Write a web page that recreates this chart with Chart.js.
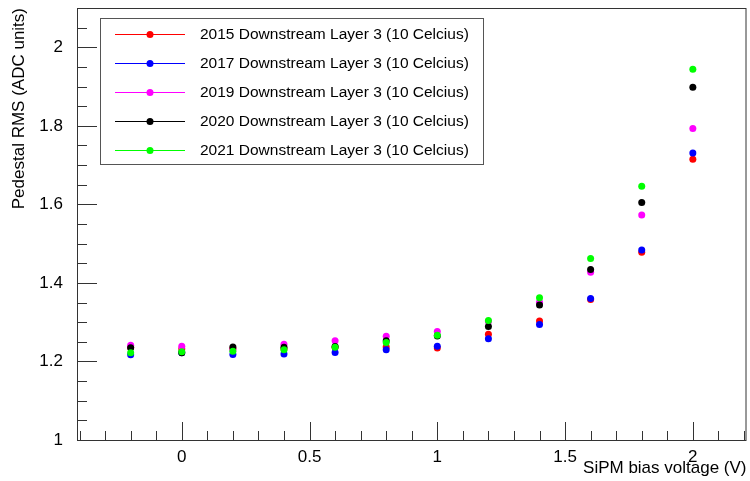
<!DOCTYPE html>
<html lang="en">
  <head>
    <meta charset="UTF-8" />
    <title>Pedestal RMS vs SiPM bias voltage</title>
    <script src="https://cdn.jsdelivr.net/npm/chart.js"></script>
    <style>
      body {
        margin: 0;
        background-color: #fff;
      }
      #chart-container {
        width: 750px;
        height: 481px;
      }
    </style>
  </head>
  <body>
    <div id="chart-container">
      <canvas id="rmsChart" width="750" height="481"></canvas>
    </div>
    <script>
      // bias voltage points (V)
      const voltages = [-0.2, 0, 0.2, 0.4, 0.6, 0.8, 1.0, 1.2, 1.4, 1.6, 1.8, 2.0];

      // pedestal RMS per year (ADC units)
      const rms2015 = [1.236, 1.232, 1.233, 1.232, 1.236, 1.237, 1.234, 1.269, 1.303, 1.358, 1.478, 1.715];
      const rms2017 = [1.217, 1.222, 1.218, 1.219, 1.223, 1.230, 1.239, 1.258, 1.294, 1.360, 1.484, 1.731];
      const rms2019 = [1.241, 1.239, 1.230, 1.244, 1.253, 1.264, 1.276, 1.302, 1.351, 1.427, 1.573, 1.793];
      const rms2020 = [1.235, 1.222, 1.237, 1.236, 1.238, 1.253, 1.265, 1.289, 1.344, 1.434, 1.605, 1.898];
      const rms2021 = [1.222, 1.225, 1.226, 1.230, 1.236, 1.248, 1.267, 1.304, 1.362, 1.462, 1.646, 1.944];

      const seriesLabels = [
        "2015 Downstream Layer 3 (10 Celcius)",
        "2017 Downstream Layer 3 (10 Celcius)",
        "2019 Downstream Layer 3 (10 Celcius)",
        "2020 Downstream Layer 3 (10 Celcius)",
        "2021 Downstream Layer 3 (10 Celcius)",
      ];
      const seriesColors = ["#ff0000", "#0000ff", "#ff00ff", "#000000", "#00ff00"];
      const seriesValues = [rms2015, rms2017, rms2019, rms2020, rms2021];

      const xTicks = [0, 0.5, 1, 1.5, 2];
      const yTicks = [1, 1.2, 1.4, 1.6, 1.8, 2];

      const FONT = "Liberation Sans";

      function makeDataset(i) {
        return {
          label: seriesLabels[i],
          data: voltages.map((v, k) => ({ x: v, y: seriesValues[i][k] })),
          backgroundColor: seriesColors[i],
          borderColor: seriesColors[i],
          pointRadius: 3.5,
          pointHoverRadius: 3.5,
          borderWidth: 0,
          showLine: false,
          // green ends up on top, red at the bottom
          order: seriesLabels.length - i,
        };
      }

      // no extra room for overhanging tick labels
      function noScalePadding(s) {
        s.paddingTop = 0;
        s.paddingBottom = 0;
        s.paddingLeft = 0;
        s.paddingRight = 0;
      }

      // ROOT style frame, inner ticks and legend box
      const rootStyle = {
        id: "rootStyle",
        afterDraw(chart) {
          const c = chart.ctx;
          const a = chart.chartArea;
          const xs = chart.scales.x;
          const ys = chart.scales.y;
          c.save();

          // frame
          c.strokeStyle = "#333";
          c.lineWidth = 1;
          c.strokeRect(a.left + 0.5, a.top + 0.5, a.right - a.left - 1, a.bottom - a.top);

          // x ticks (major 0.5, minor 0.1), pointing up into the frame
          c.beginPath();
          for (let k = -5; k <= 23; k++) {
            const v = k / 10;
            if (v < xs.min || v > xs.max) continue;
            const px = Math.round(xs.getPixelForValue(v)) + 0.5;
            const len = k % 5 === 0 ? 18 : 9;
            c.moveTo(px, a.bottom);
            c.lineTo(px, a.bottom - len);
          }
          // y ticks (major 0.2, minor 0.05), pointing right into the frame
          for (let k = 0; k <= 22; k++) {
            const v = 1 + k * 0.05;
            if (v > ys.max + 1e-9) continue;
            const py = Math.round(ys.getPixelForValue(v)) + 0.5;
            const len = k % 4 === 0 ? 20 : 10;
            c.moveTo(a.left, py);
            c.lineTo(a.left + len, py);
          }
          c.stroke();

          // legend
          const box = { x: 100, y: 18, w: 383, h: 146 };
          c.fillStyle = "#fff";
          c.fillRect(box.x, box.y, box.w, box.h);
          c.strokeStyle = "#555";
          c.strokeRect(box.x + 0.5, box.y + 0.5, box.w, box.h);
          c.font = "15.5px '" + FONT + "'";
          c.textBaseline = "middle";
          c.textAlign = "left";
          chart.data.datasets.forEach((ds, i) => {
            const rowY = 34 + i * 29;
            c.strokeStyle = ds.borderColor;
            c.beginPath();
            c.moveTo(115, rowY + 0.5);
            c.lineTo(185, rowY + 0.5);
            c.stroke();
            c.fillStyle = ds.backgroundColor;
            c.beginPath();
            c.arc(150, rowY + 0.5, 3.5, 0, Math.PI * 2);
            c.fill();
            c.fillStyle = "#000";
            c.fillText(ds.label, 200, rowY + 1);
          });
          c.restore();
        },
      };

      const ctx = document.getElementById("rmsChart").getContext("2d");
      const rmsChart = new Chart(ctx, {
        type: "scatter",
        data: {
          datasets: seriesLabels.map((_, i) => makeDataset(i)),
        },
        options: {
          responsive: false,
          animation: false,
          maintainAspectRatio: false,
          layout: { padding: { top: 8, right: 2, left: 0, bottom: 0 } },
          plugins: {
            legend: { display: false },
            tooltip: { enabled: false },
          },
          scales: {
            x: {
              type: "linear",
              min: -0.41,
              max: 2.21,
              afterBuildTicks: (s) => {
                s.ticks = xTicks.map((v) => ({ value: v }));
              },
              afterFit: (s) => {
                s.height = 41;
                noScalePadding(s);
              },
              grid: { display: false, drawTicks: false },
              border: { display: false },
              ticks: {
                color: "#000",
                padding: 7,
                maxRotation: 0,
                font: { family: FONT, size: 17 },
                callback: (v) => String(v),
              },
              title: {
                display: true,
                text: "SiPM bias voltage (V)",
                align: "end",
                color: "#000",
                font: { family: FONT, size: 17 },
                padding: { top: 0, bottom: 2 },
              },
            },
            y: {
              type: "linear",
              min: 1,
              max: 2.1,
              afterBuildTicks: (s) => {
                s.ticks = yTicks.map((v) => ({ value: v }));
              },
              afterFit: (s) => {
                s.width = 77;
                noScalePadding(s);
              },
              grid: { display: false, drawTicks: false },
              border: { display: false },
              ticks: {
                color: "#000",
                padding: 14,
                font: { family: FONT, size: 17 },
                callback: (v) => String(v),
              },
              title: {
                display: true,
                text: "Pedestal RMS (ADC units)",
                align: "end",
                color: "#000",
                font: { family: FONT, size: 17 },
                padding: { top: 9, bottom: 0 },
              },
            },
          },
        },
        plugins: [rootStyle],
      });
    </script>
  </body>
</html>
